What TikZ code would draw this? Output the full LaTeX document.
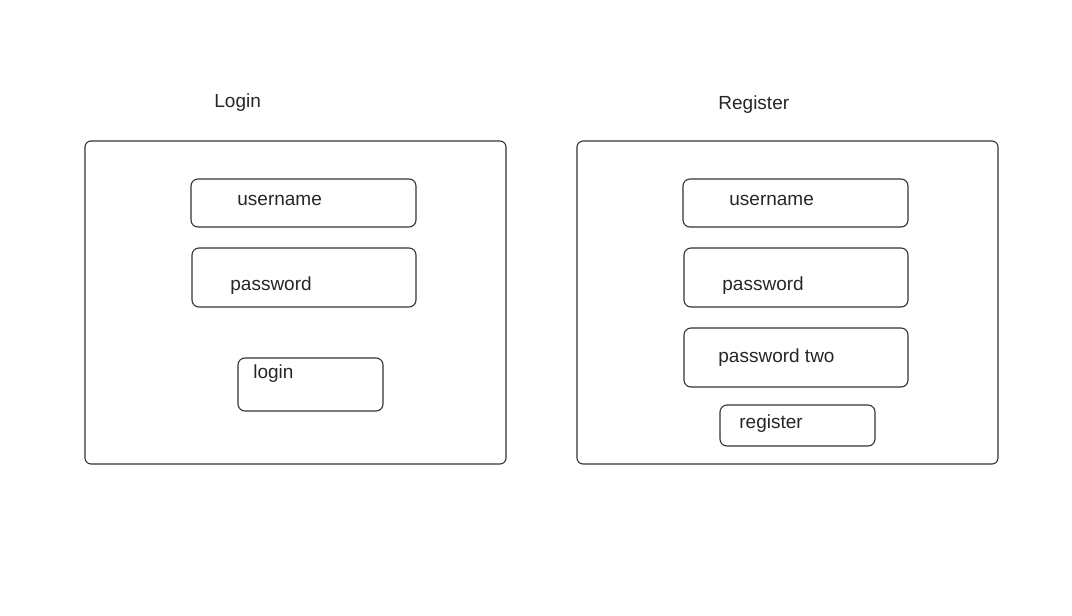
\documentclass[tikz,border=0pt]{standalone}
\usepackage{fontspec}
\setmainfont{Liberation Sans}
\usetikzlibrary{fit}

\begin{document}
\begin{tikzpicture}[x=0.5pt, y=-0.5pt]
\tikzset{cadre/.style={draw=black!80, line width=0.55pt, rounded corners=3pt, inner sep=0pt},
  champ/.style={cadre, rounded corners=3.5pt},
  texte/.style={anchor=base west, inner sep=0pt, text=black!85, font=\fontsize{9.5}{11}\selectfont}}
\useasboundingbox (0,0) rectangle (1072,616);
% titles
\node[texte] (T1) at (214,107) {Login};
\node[texte] (T2) at (718,109) {Register};
% login form
\node[cadre, fit={(85,141) (506,464)}] (F1) {};
\node[champ, fit={(191,179) (416,227)}] (LU) {};
\node[champ, fit={(192,248) (416,307)}] (LP) {};
\node[champ, fit={(238,358) (383,411)}] (LB) {};
\node[texte] (LUt) at (237,205) {username};
\node[texte] (LPt) at (230,290) {password};
\node[texte] (LBt) at (253,378) {login};
% register form
\node[cadre, fit={(577,141) (998,464)}] (F2) {};
\node[champ, fit={(683,179) (908,227)}] (RU) {};
\node[champ, fit={(684,248) (908,307)}] (RP) {};
\node[champ, fit={(684,328) (908,387)}] (RP2) {};
\node[champ, fit={(720,405) (875,446)}] (RB) {};
\node[texte] (RUt) at (729,205) {username};
\node[texte] (RPt) at (722,290) {password};
\node[texte] (RP2t) at (718,362) {password two};
\node[texte] (RBt) at (739,428) {register};
\end{tikzpicture}
\end{document}
